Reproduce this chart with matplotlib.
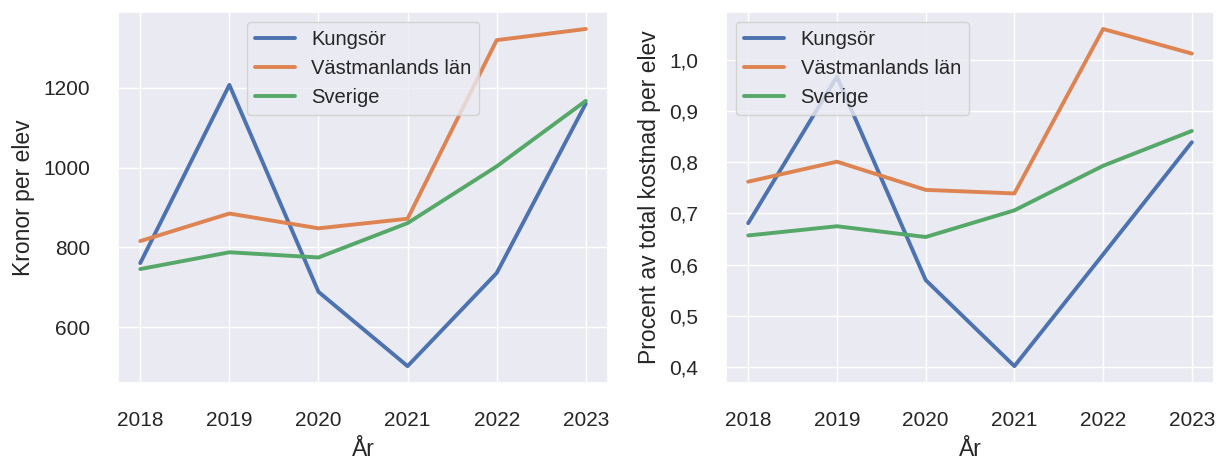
import matplotlib
matplotlib.use("Agg")
from matplotlib import pyplot as plt
from matplotlib.ticker import FuncFormatter
import seaborn as sns

years = [2018, 2019, 2020, 2021, 2022, 2023]
series_names = ["Kungsör", "Västmanlands län", "Sverige"]

# kronor per elev
kronor_kungsor = [761, 1207, 689, 503, 736, 1160]
kronor_vastmanland = [816, 885, 848, 872, 1319, 1347]
kronor_sverige = [746, 788, 775, 861, 1003, 1167]

# procent av total kostnad per elev
procent_kungsor = [0.681, 0.967, 0.570, 0.402, 0.620, 0.839]
procent_vastmanland = [0.762, 0.801, 0.746, 0.739, 1.060, 1.012]
procent_sverige = [0.657, 0.675, 0.654, 0.706, 0.793, 0.861]

sns.set_theme(style="darkgrid")
plt.rcParams['font.family'] = ['Liberation Sans', 'DejaVu Sans']

fig = plt.figure(figsize=(12.19, 4.59), dpi=100)
ax1 = fig.add_axes([0.0968, 0.1656, 0.402, 0.808])
ax2 = fig.add_axes([0.5956, 0.1656, 0.4003, 0.808])

def plot_panel(ax, data, ylabel, loc):
    for name, vals in zip(series_names, data):
        ax.plot(years, vals, label=name, linewidth=2.8)
    ax.set_xlabel("År", fontsize=16.5, labelpad=6)
    ax.set_ylabel(ylabel, fontsize=16.5, labelpad=6)
    ax.set_xticks(years)
    ax.tick_params(labelsize=15, pad=14)
    ax.legend(loc=loc, fontsize=14.5)

plot_panel(ax1, [kronor_kungsor, kronor_vastmanland, kronor_sverige],
           "Kronor per elev", "upper center")
ax1.set_yticks([600, 800, 1000, 1200])

plot_panel(ax2, [procent_kungsor, procent_vastmanland, procent_sverige],
           "Procent av total kostnad per elev", "upper left")
ax2.set_yticks([0.4, 0.5, 0.6, 0.7, 0.8, 0.9, 1.0])
ax2.yaxis.set_major_formatter(FuncFormatter(lambda v, p: f"{v:.1f}".replace(".", ",")))

fig.savefig("out.png", dpi=100)
